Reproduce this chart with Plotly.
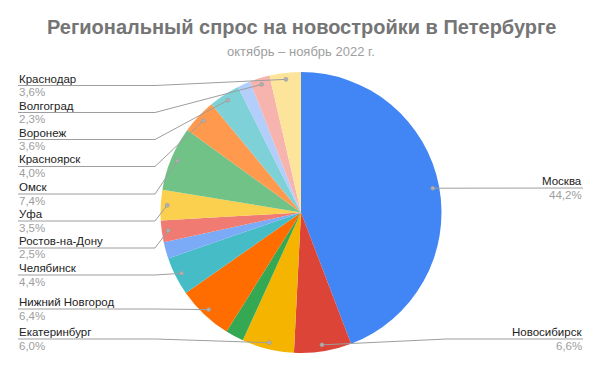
import math
import plotly.graph_objects as go

# ---------------- data (slice order, clockwise from 12 o'clock) ----------------
cities = ["Москва", "Новосибирск", "Екатеринбург", "", "Нижний Новгород", "Челябинск", "",
          "Ростов-на-Дону", "Уфа", "Омск", "Красноярск", "Воронеж", "", "Волгоград", "Краснодар"]
shares = [44.2, 6.6, 6.0, 2.1, 6.4, 4.4, 1.9, 2.5, 3.5, 7.4, 4.0, 3.6, 1.5, 2.3, 3.6]
colors = ["#4285F4", "#DB4437", "#F4B400", "#34A853", "#FF6D01", "#46BDC6", "#7BAAF7",
          "#F07B72", "#FCD04F", "#71C287", "#FF994D", "#7ED1D7", "#B3CEFB", "#F7B4AE", "#FDE49B"]

title = "Региональный спрос на новостройки в Петербурге"
subtitle = "октябрь – ноябрь 2022 г."

# ---------------- layout constants (pixels) ----------------
W, H = 602, 372
CX, CY, R = 301.0, 212.5, 140.5
DOT_R = 134.0
LEFT_X = 18
BEND_X = 155
RIGHT_X = 583
RIGHT_BEND_X = 447
label_y = {  # vertical centre of the name line
    "Краснодар": 78.5, "Волгоград": 105.5, "Воронеж": 132.5, "Красноярск": 159.5, "Омск": 187,
    "Уфа": 214, "Ростов-на-Дону": 241, "Челябинск": 268, "Нижний Новгород": 302,
    "Екатеринбург": 332, "Москва": 181, "Новосибирск": 332,
}
right_side = {"Москва", "Новосибирск"}
PCT_DY = 13.5
FS = 11.5

GRAY_LINE = "#9e9e9e"
NAME_COLOR = "#222222"
PCT_COLOR = "#9e9e9e"
FONT = "Arial, Liberation Sans, sans-serif"


def px(x):
    return x / W


def py(y):
    return 1 - y / H


fig = go.Figure()
fig.add_trace(go.Pie(
    labels=[c if c else " " * (i + 1) for i, c in enumerate(cities)],
    values=shares,
    sort=False,
    direction="clockwise",
    rotation=0,
    marker=dict(colors=colors, line=dict(width=0)),
    textinfo="none",
    hoverinfo="label+percent",
    showlegend=False,
    domain=dict(x=[px(CX - R), px(CX + R)], y=[py(CY + R), py(CY - R)]),
))

total = sum(shares)
shapes = []
annotations = []
cum = 0.0
for city, v in zip(cities, shares):
    mid = (cum + v / 2) / total
    cum += v
    if not city:
        continue
    th = 2 * math.pi * mid
    dx = CX + DOT_R * math.sin(th)
    dy = CY - DOT_R * math.cos(th)
    yn = label_y[city]
    yu = yn + 7
    pct = f"{v / total * 100:.1f}%".replace(".", ",")
    if city in right_side:
        pts = [(dx, dy), (RIGHT_BEND_X, yu), (RIGHT_X, yu)] if abs(dy - yu) > 2 else [(dx, dy), (RIGHT_X, yu)]
        xa, anchor = RIGHT_X, "right"
    else:
        pts = [(LEFT_X, yu), (BEND_X, yu), (dx, dy)]
        xa, anchor = LEFT_X, "left"
    path = "M " + " L ".join(f"{px(a):.5f},{py(b):.5f}" for a, b in pts)
    shapes.append(dict(type="path", path=path, xref="paper", yref="paper",
                       line=dict(color=GRAY_LINE, width=1), layer="above"))
    shapes.append(dict(type="circle", xref="paper", yref="paper",
                       x0=px(dx - 2), x1=px(dx + 2), y0=py(dy + 2), y1=py(dy - 2),
                       fillcolor="#b0b0b0", line=dict(color="#9a9a9a", width=0.6), layer="above"))
    annotations.append(dict(x=px(xa), y=py(yn), xref="paper", yref="paper", text=city,
                            showarrow=False, xanchor=anchor, yanchor="middle", borderpad=0,
                            font=dict(family=FONT, size=FS, color=NAME_COLOR)))
    annotations.append(dict(x=px(xa), y=py(yn + PCT_DY), xref="paper", yref="paper", text=pct,
                            showarrow=False, xanchor=anchor, yanchor="middle", borderpad=0,
                            font=dict(family=FONT, size=FS, color=PCT_COLOR)))

annotations.append(dict(x=0.5, y=py(27), xref="paper", yref="paper", text=f"<b>{title}</b>",
                        showarrow=False, xanchor="center", yanchor="middle",
                        font=dict(family=FONT, size=20, color="#757575")))
annotations.append(dict(x=0.5, y=py(52), xref="paper", yref="paper", text=subtitle,
                        showarrow=False, xanchor="center", yanchor="middle",
                        font=dict(family=FONT, size=13, color="#9e9e9e")))

fig.update_layout(
    width=W, height=H,
    margin=dict(l=0, r=0, t=0, b=0),
    paper_bgcolor="white", plot_bgcolor="white",
    shapes=shapes, annotations=annotations,
)

fig.write_html("out.html", config={"displayModeBar": False},
               post_script="document.body.style.margin='0';document.body.style.overflow='hidden';")
